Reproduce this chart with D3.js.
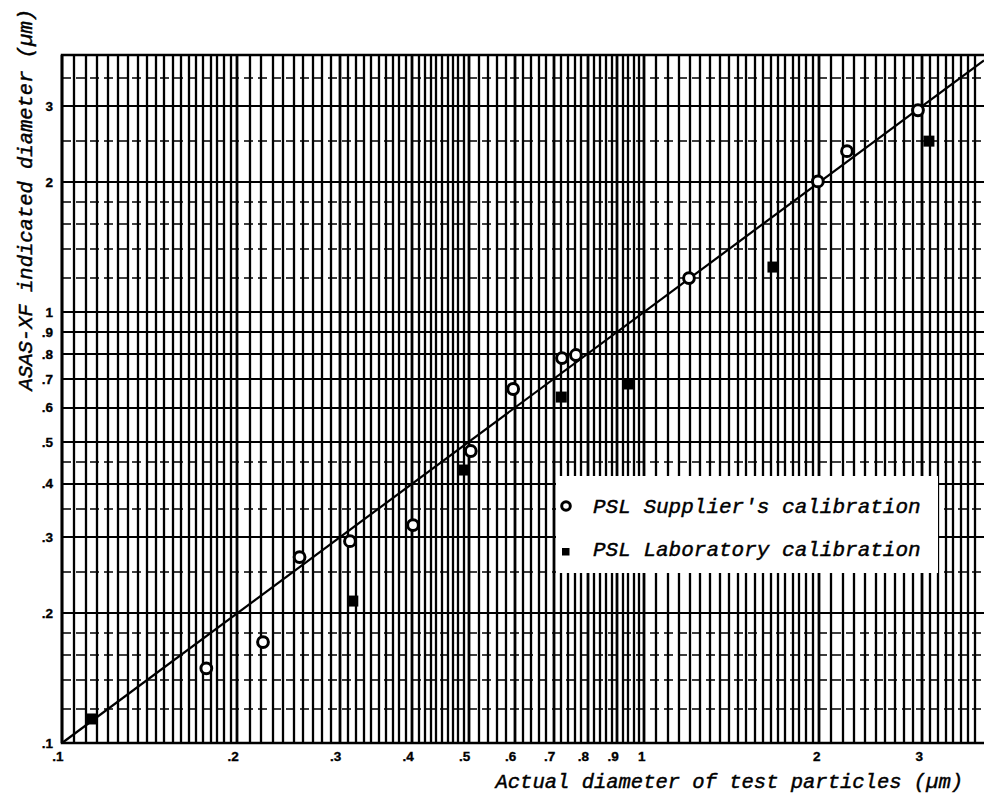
<!DOCTYPE html>
<html>
<head>
<meta charset="utf-8">
<script src="https://cdn.jsdelivr.net/npm/d3@7"></script>
<style>
	body { margin: 0; background: #fff; }
	svg { display: block; }
	.tick-label { font-family: "Liberation Sans", Arial, sans-serif; font-weight: bold; font-size: 13.5px; fill: #000; stroke: #000; stroke-width: 0.35px; }
	.title { font-family: "Liberation Mono", "Courier New", monospace; font-style: italic; font-size: 20.5px; fill: #000; stroke: #000; stroke-width: 0.45px; }
	.legend-text { font-family: "Liberation Mono", "Courier New", monospace; font-style: italic; font-size: 21px; fill: #000; stroke: #000; stroke-width: 0.45px; }
</style>
</head>
<body>
<svg width="984" height="803"></svg>
<script>
// Tick values and their printed labels (same on both axes)
var tickValues = [0.1, 0.2, 0.3, 0.4, 0.5, 0.6, 0.7, 0.8, 0.9, 1, 2, 3]
var tickLabels = [".1", ".2", ".3", ".4", ".5", ".6", ".7", ".8", ".9", "1", "2", "3"]

// PSL Supplier's calibration (open circles): actual diameter, indicated diameter
var supplierX = [0.177, 0.2215, 0.256, 0.3125, 0.401, 0.504, 0.596, 0.723, 0.764, 1.195, 1.99, 2.233, 2.957]
var supplierY = [0.149, 0.1715, 0.270, 0.294, 0.3205, 0.476, 0.663, 0.782, 0.795, 1.199, 2.01, 2.363, 2.94]

// PSL Laboratory calibration (filled squares)
var labX = [0.1126, 0.316, 0.489, 0.721, 0.939, 1.666, 3.088]
var labY = [0.1137, 0.2135, 0.43, 0.635, 0.681, 1.272, 2.493]

// 1:1 reference line
var lineX = [0.1, 3.84]

var legendLabels = ["PSL Supplier's calibration", "PSL Laboratory calibration"]

var svg = d3.select("svg")

// log-log graph paper
var x = d3.scaleLog().domain([0.1, 3.84]).range([62, 984])
var y = d3.scaleLog().domain([0.1, 3.95]).range([743, 55])

// rulings: the paper gets finer subdivisions where the decade is compressed
function ruled(segments) {
	var out = []
	segments.forEach(function(s) {
		var n = Math.round((s[1] - s[0]) / s[2])
		for (var i = 0; i < n; i++) out.push(+(s[0] + i * s[2]).toFixed(4))
	})
	return out
}
var vLines = ruled([[0.1, 0.2, 0.005], [0.2, 0.5, 0.01], [0.5, 1, 0.02], [1, 2, 0.05], [2, 3.84, 0.1]])
var hLines = ruled([[0.1, 0.2, 0.02], [0.2, 0.5, 0.05], [0.5, 1, 0.1], [1, 2, 0.2], [2, 3.95, 0.5]])

function isMajor(v) {
	return tickValues.some(function(t) { return Math.abs(t - v) < 1e-6 })
}

var grid = svg.append("g").attr("class", "grid")

grid.selectAll(".h")
	.data(hLines)
	.enter().append("line")
		.attr("class", "h")
		.attr("x1", x(0.1)).attr("x2", x(3.84))
		.attr("y1", function(d) { return Math.round(y(d)) })
		.attr("y2", function(d) { return Math.round(y(d)) })
		.attr("stroke", "#000")
		.attr("stroke-width", function(d) { return isMajor(d) ? 2.2 : 1.6 })
		.attr("stroke-dasharray", function(d) { return isMajor(d) ? null : "9,5" })

grid.selectAll(".v")
	.data(vLines)
	.enter().append("line")
		.attr("class", "v")
		.attr("y1", y(0.1)).attr("y2", y(3.95))
		.attr("x1", function(d) { return Math.round(x(d)) })
		.attr("x2", function(d) { return Math.round(x(d)) })
		.attr("stroke", "#000")
		.attr("stroke-width", function(d) { return isMajor(d) ? 2.8 : 2.3 })

// frame
svg.append("rect")
	.attr("x", x(0.1)).attr("y", y(3.95))
	.attr("width", x(3.84) - x(0.1) + 4)
	.attr("height", y(0.1) - y(3.95))
	.attr("fill", "none")
	.attr("stroke", "#000")
	.attr("stroke-width", 2.5)

// legend box sits on top of the ruling
svg.append("rect")
	.attr("x", 556).attr("y", 476)
	.attr("width", 382).attr("height", 97)
	.attr("fill", "#fff")

// tick labels
svg.selectAll(".xlab")
	.data(tickValues)
	.enter().append("text")
		.attr("class", "tick-label")
		.attr("x", function(d) { return x(d) + 1.5 })
		.attr("y", 761)
		.attr("text-anchor", "end")
		.text(function(d, i) { return tickLabels[i] })

svg.selectAll(".ylab")
	.data(tickValues)
	.enter().append("text")
		.attr("class", "tick-label")
		.attr("x", 53)
		.attr("y", function(d) { return y(d) })
		.attr("dy", "0.35em")
		.attr("text-anchor", "end")
		.text(function(d, i) { return tickLabels[i] })

// axis titles
svg.append("text")
	.attr("class", "title")
	.attr("x", 963).attr("y", 788)
	.attr("text-anchor", "end")
	.text("Actual diameter of test particles (\u00b5m)")

svg.append("text")
	.attr("class", "title")
	.attr("transform", "translate(32,9) rotate(-90)")
	.attr("text-anchor", "end")
	.text("ASAS-XF indicated diameter (\u00b5m)")

// 1:1 line
svg.append("path")
	.datum(lineX)
	.attr("d", d3.line().x(function(d) { return x(d) }).y(function(d) { return y(d) }))
	.attr("fill", "none")
	.attr("stroke", "#000")
	.attr("stroke-width", 2.2)

// supplier points
svg.selectAll(".sup")
	.data(supplierX)
	.enter().append("circle")
		.attr("class", "sup")
		.attr("cx", function(d) { return x(d) })
		.attr("cy", function(d, i) { return y(supplierY[i]) })
		.attr("r", 5.4)
		.attr("fill", "#fff")
		.attr("stroke", "#000")
		.attr("stroke-width", 3)

// laboratory points
svg.selectAll(".lab")
	.data(labX)
	.enter().append("rect")
		.attr("class", "lab")
		.attr("x", function(d) { return x(d) - 5.5 })
		.attr("y", function(d, i) { return y(labY[i]) - 5.5 })
		.attr("width", 11).attr("height", 11)
		.attr("fill", "#000")

// legend
var legend = svg.append("g")
legend.append("circle")
	.attr("cx", 566).attr("cy", 506).attr("r", 4.3)
	.attr("fill", "#fff").attr("stroke", "#000").attr("stroke-width", 3)
legend.append("rect")
	.attr("x", 562).attr("y", 548).attr("width", 7.5).attr("height", 7.5)
	.attr("fill", "#000")
legend.selectAll("text")
	.data(legendLabels)
	.enter().append("text")
		.attr("class", "legend-text")
		.attr("x", 593)
		.attr("y", function(d, i) { return 513 + i * 43 })
		.text(function(d) { return d })
</script>
</body>
</html>
